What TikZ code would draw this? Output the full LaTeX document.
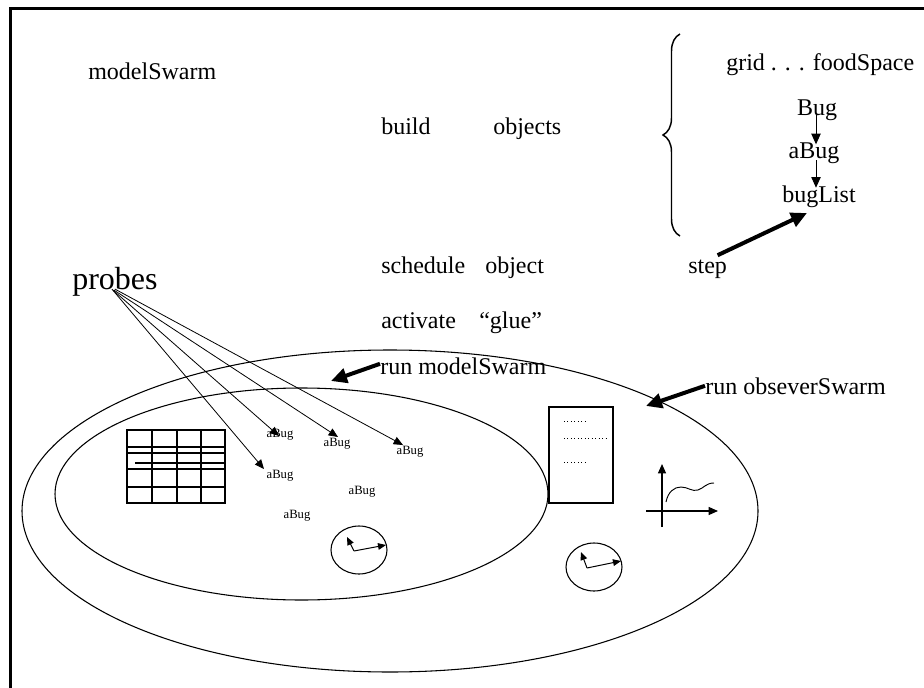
\documentclass[tikz,border=0pt]{standalone}
\usepackage{fontspec}
\setmainfont{Liberation Serif}
\usetikzlibrary{arrows.meta,decorations.pathreplacing}
\tikzset{
  txt/.style={inner sep=0pt,anchor=base west,font=\fontsize{18}{20}\selectfont},
  ctxt/.style={inner sep=0pt,anchor=base,font=\fontsize{18}{20}\selectfont},
  bugtxt/.style={inner sep=0pt,font=\fontsize{9.5}{11}\selectfont},
  thinarrow/.style={line width=0.75pt,-{Triangle[length=8pt,width=7pt]}},
  probearrow/.style={line width=0.6pt,-{Triangle[length=7pt,width=6pt]}},
  clockarrow/.style={line width=0.75pt,-{Triangle[length=6pt,width=5pt]}},
  axisarrow/.style={line width=0.9pt,-{Triangle[length=7pt,width=6pt]}},
  thickarrow/.style={line width=3pt,-{Triangle[length=12pt,width=11pt]}},
  outline/.style={line width=0.8pt},
  gridline/.style={line width=1pt},
}
\begin{document}
\begin{tikzpicture}[x=0.75pt,y=-0.75pt]
\useasboundingbox (0,0) rectangle (924,688);
% frame
\draw[line width=2pt] (10.5,688) -- (10.5,8.5) -- (924,8.5);

% texts
\node[txt] (modelswarm) at (88,80) {modelSwarm};
\node[txt] (build) at (381,135) {build};
\node[txt] (objects) at (493,135) {objects};
\node[txt] (grid) at (726,71) {grid . . . foodSpace};
\node[ctxt] (bug) at (817,116) {Bug};
\node[ctxt] (abug) at (814,159) {aBug};
\node[ctxt] (buglist) at (819,202) {bugList};
\node[txt] (step) at (688,273) {step};
\node[txt] (schedule) at (381,273) {schedule};
\node[txt] (object) at (485,273) {object};
\node[txt] (activate) at (381,328) {activate};
\node[txt] (glue) at (479,328) {“glue”};
\node[txt] (runm) at (380,374) {run modelSwarm};
\node[txt] (runo) at (705,394) {run obseverSwarm};
\node[inner sep=0pt,anchor=base west,font=\fontsize{24}{26}\selectfont] (probes) at (72,289) {probes};

% brace
\draw[line width=1.1pt,decorate,decoration={brace,amplitude=12.75pt}] (680,236) -- (680,34);

% Bug chain
\draw[thinarrow,shorten <=-5pt,shorten >=-1pt] (bug.south -| 816,0) -- (abug.north -| 816,0);
\draw[thinarrow,shorten <=-3pt,shorten >=-2pt] (abug.south -| 816,0) -- (buglist.north -| 816,0);

% step arrow
\coordinate (steptip) at (807,213);
\draw[thickarrow] ([shift={(10,-4)}]step.north) -- (steptip);

% ellipses
\draw[outline] (390,511) ellipse [x radius=368, y radius=161];
\draw[outline] (301.5,494) ellipse [x radius=246.5, y radius=106];

% run arrows
\coordinate (runmtip) at (331,381);
\coordinate (runotip) at (646,406);
\draw[thickarrow] ([yshift=1.5pt]runm.west) -- (runmtip);
\draw[thickarrow] ([yshift=0pt]runo.west) -- (runotip);

% aBug labels
\node[bugtxt] (ab1) at (280,435) {aBug};
\node[bugtxt] (ab2) at (337,444) {aBug};
\node[bugtxt] (ab3) at (410,452) {aBug};
\node[bugtxt] (ab4) at (280,476) {aBug};
\node[bugtxt] (ab5) at (362,492) {aBug};
\node[bugtxt] (ab6) at (297,516) {aBug};

% probe arrows
\coordinate (pt1) at (279,436);
\coordinate (pt2) at (338,437);
\coordinate (pt3) at (403,445);
\coordinate (pt4) at (264,469);
\draw[probearrow] ([shift={(-3,-7)}]probes.south) -- (pt4);
\draw[probearrow] ([shift={(-2,-6)}]probes.south) -- (pt1);
\draw[probearrow] ([shift={(-1,-6)}]probes.south) -- (pt2);
\draw[probearrow] ([shift={(0,-7)}]probes.south) -- (pt3);

% grid (food space)
\draw[gridline] (127,430) rectangle (225,503);
\foreach \x in {152,177,201} \draw[gridline] (\x,430) -- (\x,503);
\foreach \y in {447,453,469,487} \draw[gridline] (127,\y) -- (225,\y);
\draw[gridline] (135,463) -- (225,463);

% clocks
\draw[outline] (359,550) ellipse [x radius=28, y radius=24];
\coordinate (c1) at (354,551);
\coordinate (c1a) at (347,537);
\coordinate (c1b) at (386,545);
\draw[clockarrow] (c1) -- (c1a);
\draw[clockarrow] (c1) -- (c1b);

\draw[outline] (594,567) ellipse [x radius=28, y radius=24];
\coordinate (c2) at (587,568);
\coordinate (c2a) at (581,552);
\coordinate (c2b) at (621,561);
\draw[clockarrow] (c2) -- (c2a);
\draw[clockarrow] (c2) -- (c2b);

% document
\draw[line width=1pt] (549,407) rectangle (613,503);
\draw[line width=0.6pt,dotted] (564,421) -- (588,421);
\draw[line width=0.6pt,dotted] (564,438) -- (606,438);
\draw[line width=0.6pt,dotted] (564,462) -- (588,462);

% graph
\coordinate (gy) at (662,464);
\coordinate (gx) at (718,511);
\draw[axisarrow] (662,527) -- (gy);
\draw[axisarrow] (646,511) -- (gx);
\draw[line width=0.7pt] (666,502) .. controls (668,492) and (674,487) .. (681,487)
  .. controls (688,487) and (692,492) .. (698,490)
  .. controls (704,488) and (706,483) .. (714,483);
\end{tikzpicture}
\end{document}
